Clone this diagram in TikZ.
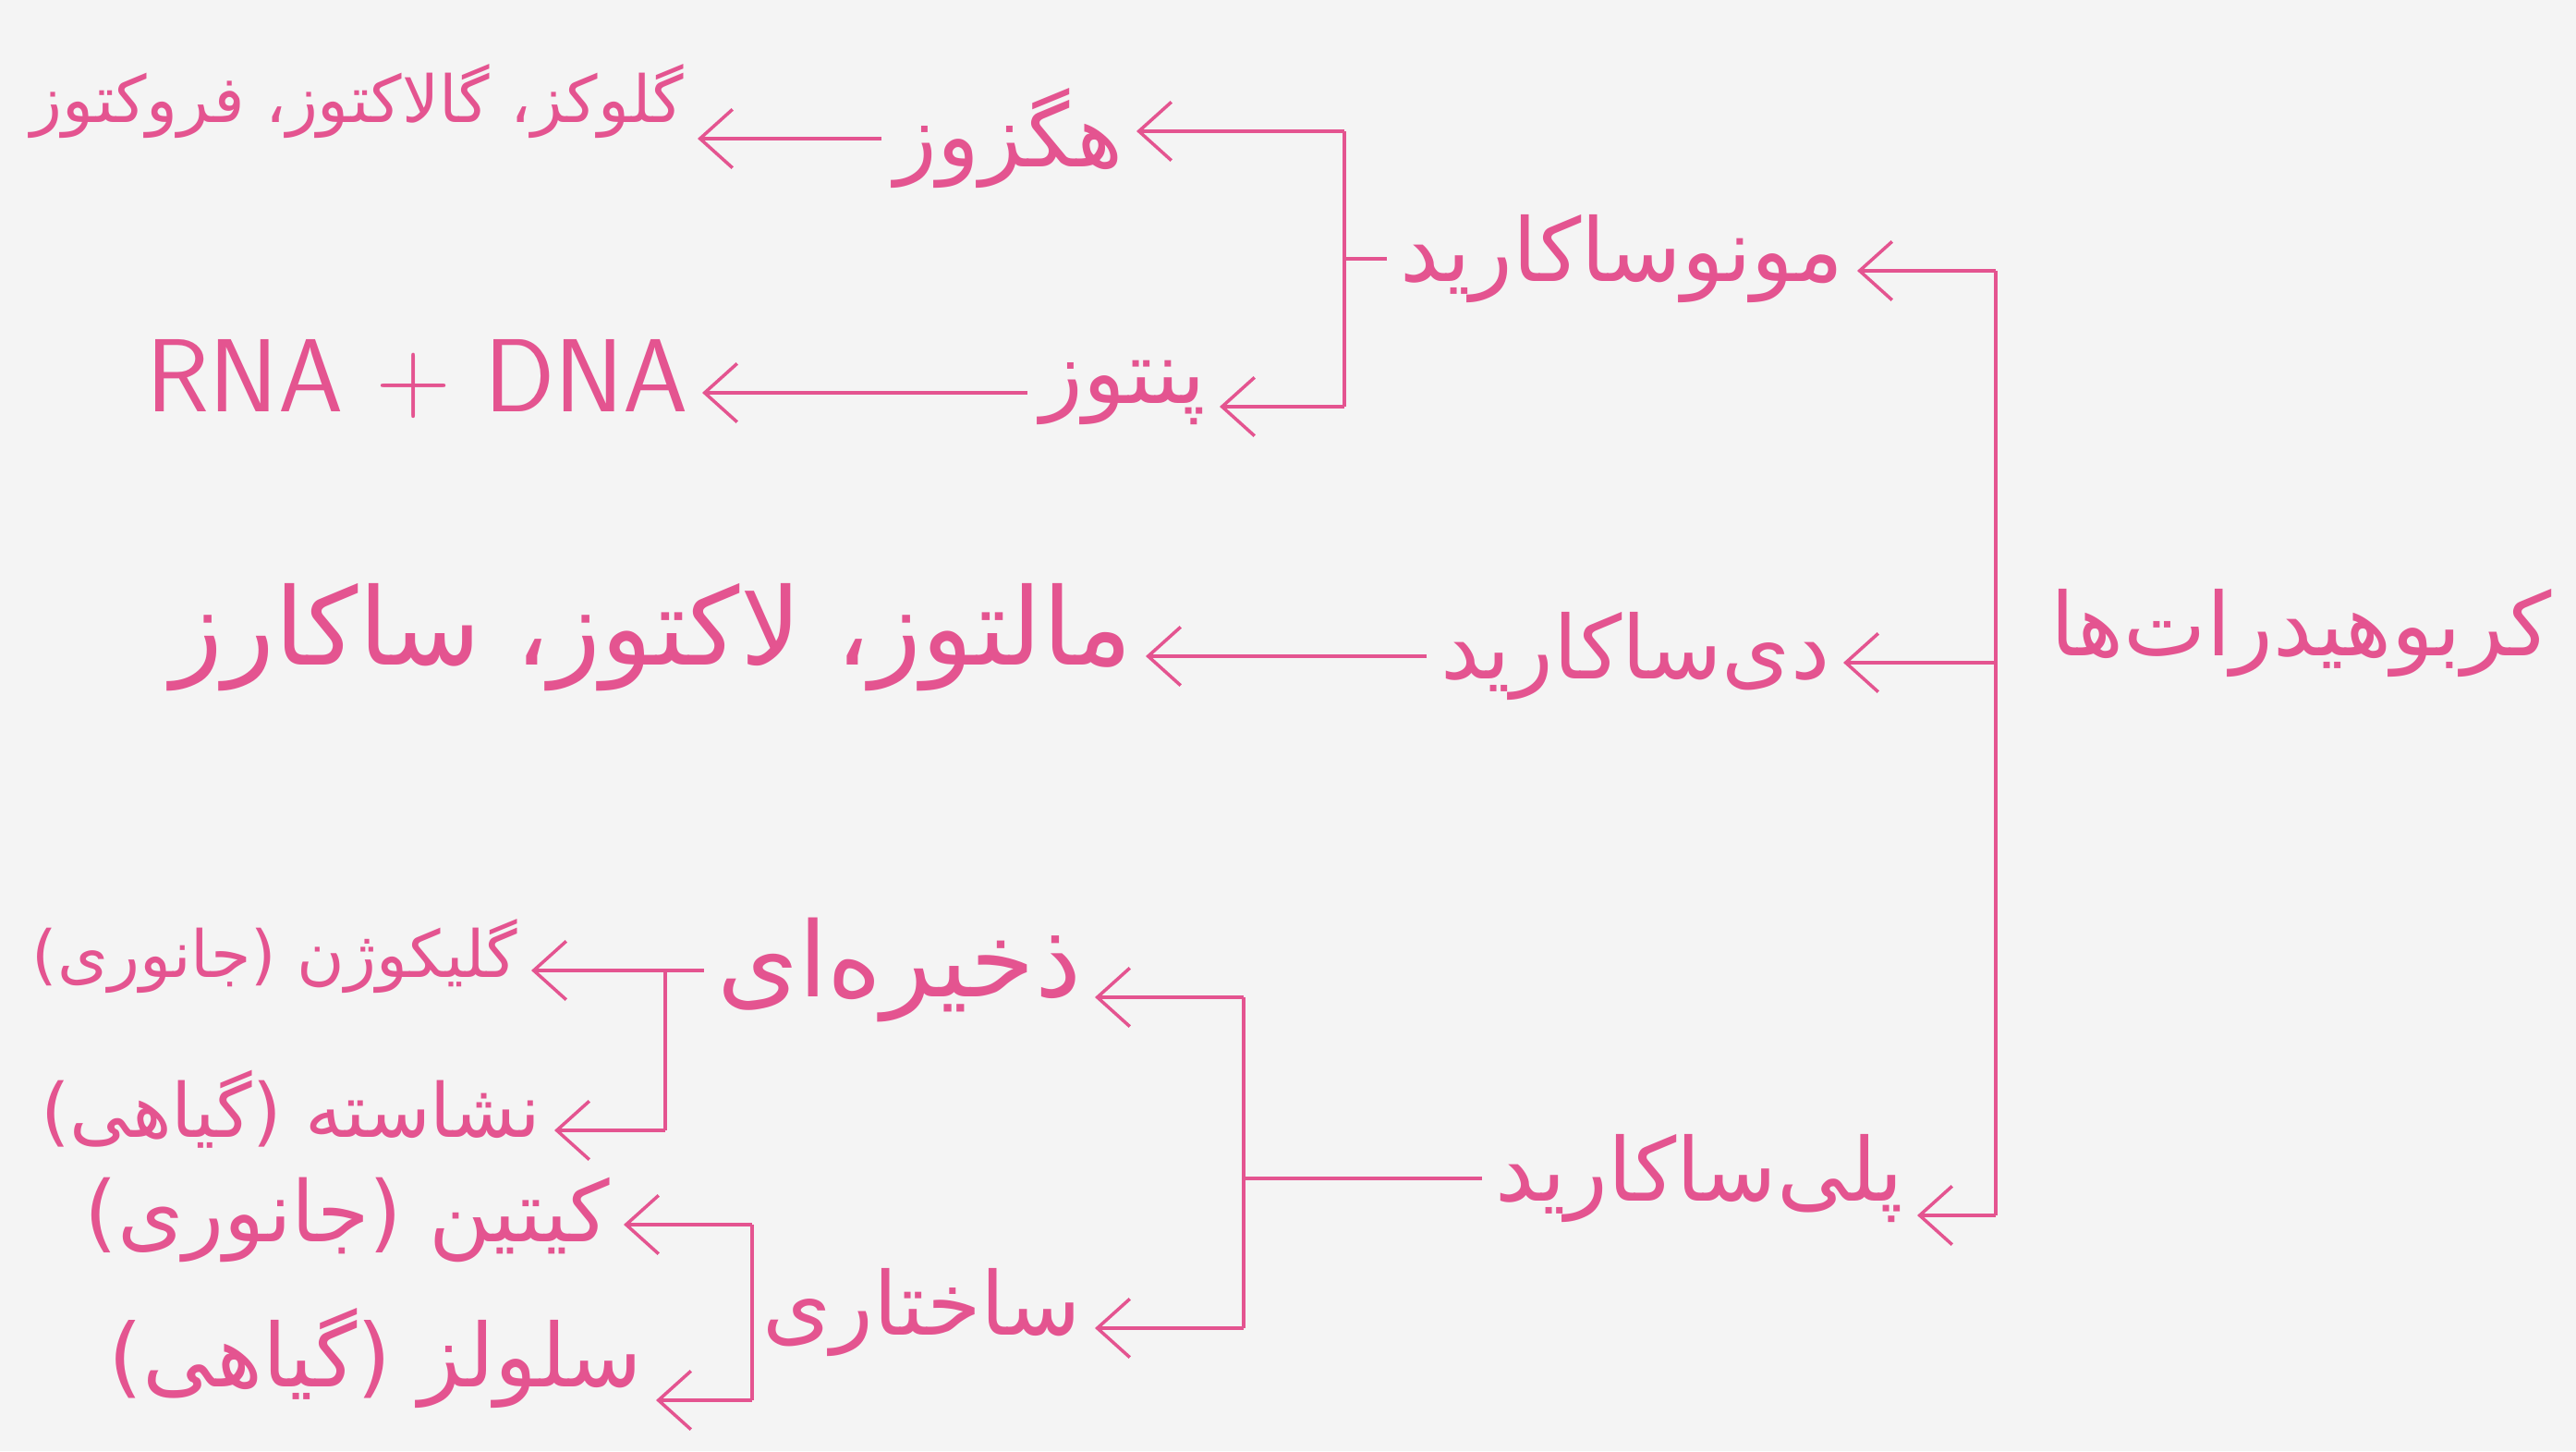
\documentclass[tikz,border=0pt]{standalone}
\usepackage{fontspec}
\newfontfamily\arabicfont[Script=Arabic]{DejaVu Sans}
\TeXXeTstate=1
\usetikzlibrary{arrows.meta, positioning}
\definecolor{penpink}{RGB}{228,84,144}
\definecolor{boardgray}{RGB}{244,244,244}
\tikzset{
	fatext/.style={font=\arabicfont\fontsize{27}{32}\selectfont, text=penpink, inner sep=4pt}
}
\tikzset{
	leaftext/.style={fatext, font=\arabicfont\fontsize{#1}{32}\selectfont},
	leaftext/.default=23
}
\tikzset{
	latext/.style={font=\sffamily\fontsize{32}{38}\selectfont, text=penpink, inner sep=4pt}
}
\tikzset{
	pen/.style={draw=penpink, line width=1pt},
	pentip/.style={pen, -{Straight Barb[length=10pt, width=18pt, line width=1pt]}}
}
\newcommand{\fatxt}[1]{\beginR #1\endR}

\begin{document}
\begin{tikzpicture}
      \fill[boardgray] (0,0) rectangle (27.88,15.7);
      \useasboundingbox (0,0) rectangle (27.88,15.7);
      % main spine
      \node[fatext, anchor=west] (carbs) at (22.05,8.85) {\fatxt{کربوهیدرات‌ها}};
      \coordinate (spinetop) at (21.6,12.77);
      \coordinate (spinemid) at (21.6,8.53);
      \coordinate (spinebot) at (21.6,2.55);
      \node[fatext, anchor=east] (mono) at (20.1,12.9) {\fatxt{مونوساکارید}};
      \node[fatext, anchor=east] (di) at (19.95,8.6) {\fatxt{دی‌ساکارید}};
      \node[fatext, anchor=east] (poly) at (20.75,2.95) {\fatxt{پلی‌ساکارید}};
      \draw[pen] (spinetop) -- (spinebot);
      \foreach \c/\n in {spinetop/mono, spinemid/di, spinebot/poly}
        \draw[pentip] (\c) -- (\c -| \n.east);
      % monosaccharides
      \coordinate (monotop) at (14.55,14.28);
      \coordinate (monobot) at (14.55,11.3);
      \node[fatext, anchor=east] (hexose) at (12.3,14.2) {\fatxt{هگزوز}};
      \node[fatext, anchor=east] (pentose) at (13.2,11.45) {\fatxt{پنتوز}};
      \node[leaftext=20, anchor=east] (hexlist) at (7.55,14.6) {\fatxt{گلوکز، گالاکتوز، فروکتوز}};
      \node[latext, anchor=east] (nucleic) at (7.6,11.6) {RNA + DNA};
      \draw[pen] (mono.west) -- (mono.west -| monotop);
      \draw[pen] (monotop) -- (monobot);
      \draw[pentip] (monotop) -- (monotop -| hexose.east);
      \draw[pentip] (monobot) -- (monobot -| pentose.east);
      % disaccharides
      \node[leaftext=33, anchor=east] (dilist) at (12.4,8.8) {\fatxt{مالتوز، لاکتوز، ساکارز}};
      \foreach \a/\b in {hexose/hexlist, pentose/nucleic, di/dilist}
        \draw[pentip] (\a.west) -- (\a.west -| \b.east);
      % polysaccharides
      \coordinate (polytop) at (13.46,4.91);
      \coordinate (polybot) at (13.46,1.33);
      \node[leaftext=32, anchor=east] (storage) at (11.85,5.2) {\fatxt{ذخیره‌ای}};
      \node[fatext, anchor=east] (structural) at (11.85,1.5) {\fatxt{ساختاری}};
      \draw[pen] (poly.west) -- (poly.west -| polytop);
      \draw[pen] (polytop) -- (polybot);
      \draw[pentip] (polytop) -- (polytop -| storage.east);
      \draw[pentip] (polybot) -- (polybot -| structural.east);
      \coordinate (storetop) at (7.2,5.2);
      \coordinate (storebot) at (7.2,3.47);
      \coordinate (structtop) at (8.14,2.45);
      \coordinate (structbot) at (8.14,0.55);
      \node[leaftext=20, anchor=east] (glycogen) at (5.75,5.35) {\fatxt{گلیکوژن (جانوری)}};
      \node[leaftext, anchor=east] (starch) at (6.0,3.7) {\fatxt{نشاسته (گیاهی)}};
      \node[leaftext=26, anchor=east] (chitin) at (6.75,2.5) {\fatxt{کیتین (جانوری)}};
      \node[leaftext=27, anchor=east] (cellulose) at (7.1,1.0) {\fatxt{سلولز (گیاهی)}};
      \draw[pen] (storage.west) -- (storetop) -- (storebot);
      \draw[pen] (structtop) -- (structbot);
      \draw[pentip] (storetop) -- (storetop -| glycogen.east);
      \draw[pentip] (storebot) -- (storebot -| starch.east);
      \draw[pentip] (structtop) -- (structtop -| chitin.east);
      \draw[pentip] (structbot) -- (structbot -| cellulose.east);
\end{tikzpicture}
\end{document}
